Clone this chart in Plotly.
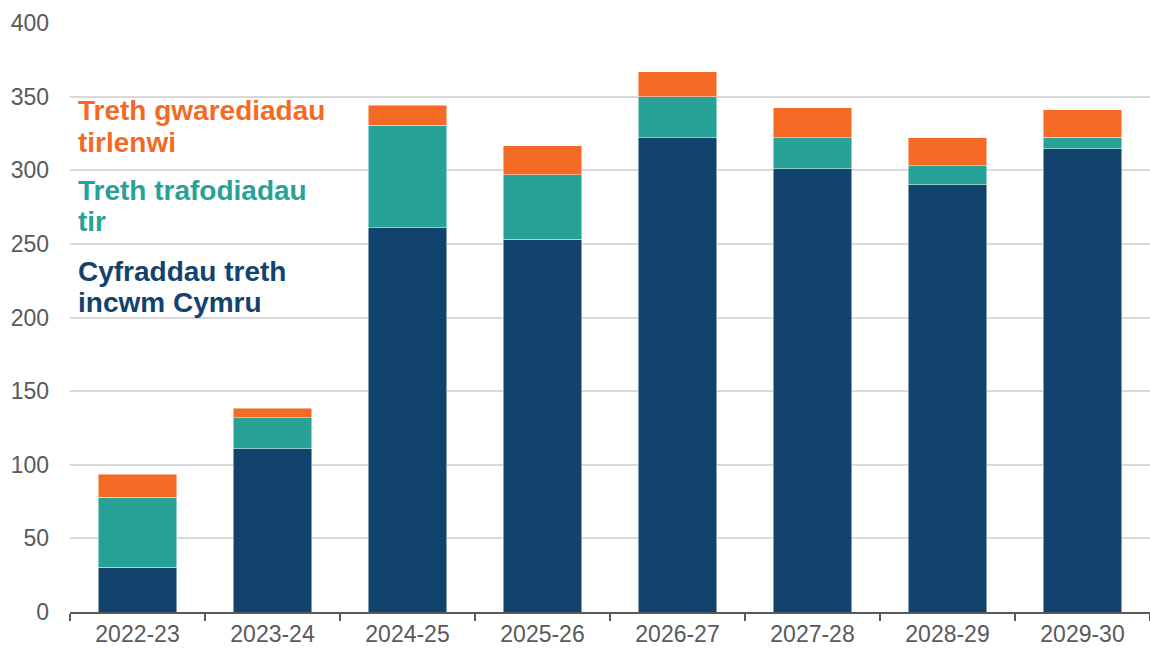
import plotly.graph_objects as go

# Financial years on the category axis
years = ["2022-23", "2023-24", "2024-25", "2025-26", "2026-27", "2027-28", "2028-29", "2029-30"]

# Stacked series values (£ million)
income_tax = [30.5, 111, 261, 253, 322, 301, 290, 314.5]
land_transaction_tax = [47.5, 21, 69.5, 44, 28, 21, 13, 8]
landfill_tax = [15.5, 6.5, 13.5, 19.5, 17, 20.5, 19, 18.5]

y_ticks = [0, 50, 100, 150, 200, 250, 300, 350, 400]

DARK_BLUE = "#12436D"
TEAL = "#28A197"
ORANGE = "#F46A25"
FONT = "Liberation Sans, Arial, sans-serif"

fig = go.Figure()
for name, vals, col in [
    ("Cyfraddau treth incwm Cymru", income_tax, DARK_BLUE),
    ("Treth trafodiadau tir", land_transaction_tax, TEAL),
    ("Treth gwarediadau tirlenwi", landfill_tax, ORANGE),
]:
    fig.add_trace(go.Bar(
        x=years, y=vals, name=name,
        marker=dict(color=col, line=dict(color="rgba(255,255,255,0.6)", width=0.8)),
        hoverinfo="x+y+name",
    ))

# Inline series labels in place of a legend, one annotation per text line
PX_PER_UNIT = 589 / 400  # plot height in px over the y range


def px_to_y(py):
    return (612 - py) / PX_PER_UNIT


label_lines = [
    ("Treth gwarediadau", ORANGE, 110.5),
    ("tirlenwi", ORANGE, 142),
    ("Treth trafodiadau", TEAL, 190.5),
    ("tir", TEAL, 221),
    ("Cyfraddau treth", DARK_BLUE, 271.5),
    ("incwm Cymru", DARK_BLUE, 302),
]
for text, col, py in label_lines:
    fig.add_annotation(
        text=f"<b>{text}</b>", x=0.006, xref="paper", y=px_to_y(py), yref="y",
        xanchor="left", yanchor="middle", align="left", showarrow=False,
        font=dict(family=FONT, size=28, color=col),
    )

fig.update_layout(
    barmode="stack",
    bargap=0.415,
    width=1150, height=651,
    margin=dict(l=70, r=0, t=23, b=39),
    plot_bgcolor="white", paper_bgcolor="white",
    showlegend=False,
    font=dict(family=FONT, size=23, color="#595959"),
)
fig.update_xaxes(
    type="category",
    showline=True, linecolor="#595959", linewidth=2,
    ticks="outside", tickson="boundaries", ticklen=7, tickwidth=2, tickcolor="#595959",
    tickfont=dict(family=FONT, size=23, color="#595959"),
    showgrid=False, automargin=False,
)
fig.update_yaxes(
    range=[0, 400], tickvals=y_ticks,
    showgrid=True, gridcolor="#D9D9D9", gridwidth=2,
    zeroline=False, showline=False,
    ticks="", ticklabelstandoff=20,
    tickfont=dict(family=FONT, size=23, color="#595959"),
    automargin=False,
)

fig.write_html("out.html")
